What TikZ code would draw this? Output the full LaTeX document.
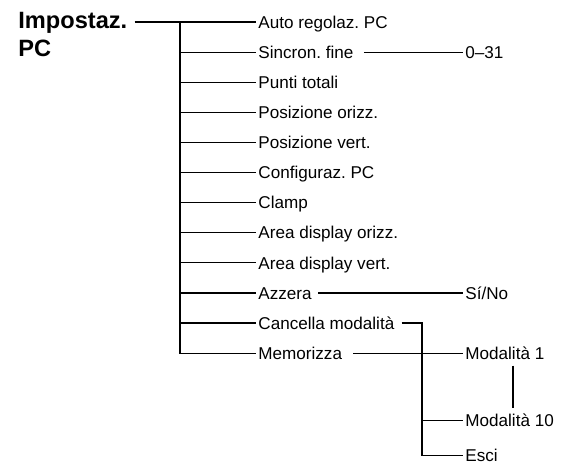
\documentclass[tikz,border=0pt]{standalone}
\usepackage{fontspec}
\setmainfont{Liberation Sans}
\usetikzlibrary{positioning}
\frenchspacing

\begin{document}
\begin{tikzpicture}[
    x=0.5pt, y=-0.5pt,
    item/.style={
        inner xsep=1pt, inner ysep=0pt, anchor=west,
        text height=6.2pt, text depth=0pt,
        font=\fontsize{8.55}{10}\selectfont
    },
    head/.style={
        inner xsep=1.5pt, inner ysep=0pt, align=left, anchor=north west,
        font=\fontsize{11.8}{14}\selectfont\bfseries
    },
    link/.style={line width=0.6pt}
]
\useasboundingbox (0,0) rectangle (576,462);

% main menu
\node[head] (title) at (15,12) {Impostaz.\\PC};
\node[item] (auto) at (256,22) {Auto regolaz. PC};
\node[item, below=15.05pt of auto.west, anchor=west] (sincron) {Sincron. fine};
\node[item, below=15.05pt of sincron.west, anchor=west] (punti) {Punti totali};
\node[item, below=15.05pt of punti.west, anchor=west] (posorizz) {Posizione orizz.};
\node[item, below=15.05pt of posorizz.west, anchor=west] (posvert) {Posizione vert.};
\node[item, below=15.05pt of posvert.west, anchor=west] (config) {Configuraz. PC};
\node[item, below=15.05pt of config.west, anchor=west] (clamp) {Clamp};
\node[item, below=15.05pt of clamp.west, anchor=west] (areaorizz) {Area display orizz.};
\node[item, below=15.05pt of areaorizz.west, anchor=west] (areavert) {Area display vert.};
\node[item, below=15.05pt of areavert.west, anchor=west] (azzera) {Azzera};
\node[item, below=15.05pt of azzera.west, anchor=west] (cancella) {Cancella modalità};
\node[item, below=15.05pt of cancella.west, anchor=west] (memorizza) {Memorizza};

% sub menus
\coordinate (trunk) at (180,0);
\coordinate (fork) at (422,0);
\coordinate (col) at (463,0);
\coordinate (vline) at (513,0);
\node[item] (range) at (col |- sincron.west) {0–31};
\node[item] (sino) at (col |- azzera.west) {Sí/No};
\node[item] (mod1) at (col |- memorizza.west) {Modalità 1};
\node[item, below=33.5pt of mod1.west, anchor=west] (mod10) {Modalità 10};
\node[item, below=17.5pt of mod10.west, anchor=west] (esci) {Esci};

% connectors
\draw[link] ([xshift=2pt]title.east |- auto.west) -- (auto.west);
\draw[link] (trunk |- auto.west) |- (memorizza.west);
\foreach \n in {sincron,punti,posorizz,posvert,config,clamp,areaorizz,areavert,azzera,cancella}
    \draw[link] (trunk |- \n.west) -- (\n.west);
\draw[link] ([xshift=4pt]sincron.east) -- (range.west);
\draw[link] ([xshift=2pt]azzera.east) -- (sino.west);
\draw[link] ([xshift=2.5pt]cancella.east) -| (fork |- esci.west) -- (esci.west);
\draw[link] (fork |- mod10.west) -- (mod10.west);
\draw[link] ([xshift=4.5pt]memorizza.east) -- (mod1.west);
\draw[link] ([yshift=-3pt]vline |- mod1.south) -- ([yshift=3pt]vline |- mod10.north);
\end{tikzpicture}
\end{document}
